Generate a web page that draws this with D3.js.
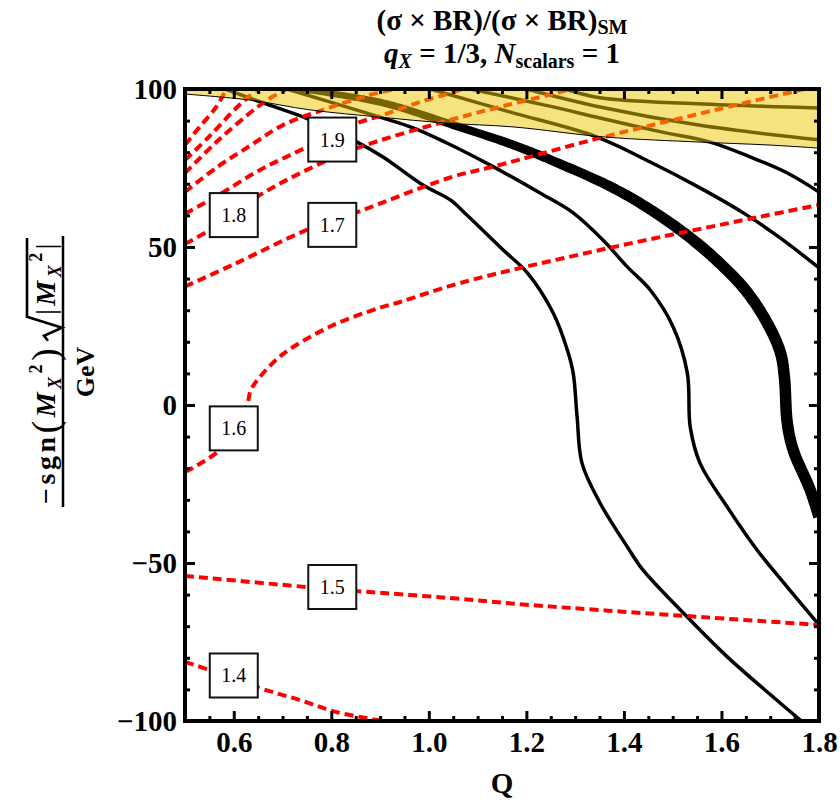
<!DOCTYPE html>
<html>
<head>
<meta charset="utf-8">
<script src="https://cdn.jsdelivr.net/npm/d3@7"></script>
<style>
  body { margin: 0; background: #fff; }
  text { font-family: "Liberation Serif", "Times New Roman", serif; }
</style>
</head>
<body>
<div id="chart"></div>
<script>
// axis ranges and tick labels
var qDomain = [0.5, 1.8],
  mDomain = [-100, 100],
  qMajor = [0.6, 0.8, 1.0, 1.2, 1.4, 1.6, 1.8],
  mMajor = [-100, -50, 0, 50, 100];

// red dashed contours of (sigma x BR)/(sigma x BR)_SM, points are [Q, mass]
var ratio14 = [[0.5,-81.3],[0.551,-83.9],[0.654,-89.6],[0.736,-93.4],[0.811,-97.2],[0.894,-99.7],[0.93,-101]];
var ratio15 = [[0.5,-54.1],[0.75,-57.6],[0.853,-58.9],[1.044,-61.1],[1.2,-63.2],[1.351,-64.9],[1.53,-66.8],[1.8,-69.6]];
var ratio16 = [[0.5,-21.2],[0.566,-14.9],[0.6,-8],[0.627,0],[0.635,4.7],[0.65,8.2],[0.7,16],[0.8,25],[0.9,30.8],[0.941,32.6],[1.064,38.6],[1.37,49.7],[1.677,59.5],[1.8,63.3]];
var ratio17 = [[0.5,37.5],[0.6,44.5],[0.75,55.4],[0.853,61],[1.044,72],[1.134,75.5],[1.343,84.2],[1.55,92],[1.77,100]];
var ratio18 = [[0.5,51],[0.551,55.4],[0.654,66.5],[0.75,74.4],[0.853,81.3],[1.044,90.2],[1.15,94.5],[1.253,98.4],[1.29,100]];
var ratio19 = [[0.5,60.5],[0.566,66.2],[0.654,74.4],[0.75,81.6],[0.853,89.2],[0.906,91.8],[0.976,95.6],[1.044,98.7],[1.07,100]];
var ratio20 = [[0.5,67.4],[0.566,75.3],[0.633,82],[0.7,88.5],[0.783,93.4],[0.879,98.1],[0.93,100]];
var ratio21 = [[0.5,73.4],[0.57,84],[0.646,94],[0.68,97.6],[0.71,100]];
var ratio22 = [[0.5,77.5],[0.55,85],[0.605,94],[0.63,97.5],[0.65,100]];
var ratio23 = [[0.5,82.3],[0.53,88],[0.564,94.3],[0.585,100]];

// labelled levels: [Q, mass, text]
var ratioLabels = [[0.60,-85.6,'1.4'],[0.802,-57.6,'1.5'],[0.60,-7.4,'1.6'],[0.802,57.0,'1.7'],[0.60,60.1,'1.8'],[0.802,84.0,'1.9']];

// black solid contours
var blackA = [[0.582,100],[0.66,95.6],[0.748,90.8],[0.853,83.2],[0.906,78.5],[0.988,69.6],[1.044,64.9],[1.078,60.1],[1.152,49.1],[1.202,41.8],[1.255,29.1],[1.284,17.4],[1.296,10.1],[1.304,-3.8],[1.314,-18.4],[1.351,-31],[1.407,-44.9],[1.439,-52.2],[1.53,-67.1],[1.612,-79.7],[1.706,-92.4],[1.764,-100],[1.78,-102]];
var blackB = [[0.709,100],[0.9,91.1],[0.968,87.7],[1.037,82.9],[1.126,75.9],[1.228,67.1],[1.296,60.8],[1.357,52.2],[1.407,43.7],[1.454,36.4],[1.501,24.7],[1.53,10.1],[1.536,-7],[1.556,-18.4],[1.612,-32.3],[1.673,-45.9],[1.735,-57.6],[1.8,-69.6]];
var blackThick = [[0.736,100],[0.906,95.6],[1.05,88.6],[1.173,82.3],[1.275,75.9],[1.366,69.6],[1.433,63.9],[1.515,55.4],[1.583,46.8],[1.649,36.4],[1.694,25.9],[1.721,16.5],[1.729,8.9],[1.735,-5.7],[1.747,-14.2],[1.782,-26.9],[1.8,-35.4]];
var blackE = [[1.003,100],[1.167,92.7],[1.345,84.8],[1.454,76.9],[1.556,68.7],[1.649,60.4],[1.721,52.8],[1.8,43.4]];
var blackD = [[1.085,100],[1.25,94.5],[1.351,90.8],[1.474,86.5],[1.577,83.2],[1.659,78.5],[1.735,73.4],[1.8,67.4]];
var blackF = [[1.2,100],[1.351,94.3],[1.556,88.5],[1.8,83.9]];
var blackG = [[1.28,100],[1.351,97.2],[1.55,95.3],[1.8,94]];

// lower edge of the yellow excluded band
var bandEdge = [[0.5,98.4],[0.633,96.5],[0.756,93.4],[0.9,91.1],[1.037,89.2],[1.173,88.0],[1.362,84.8],[1.556,83.2],[1.694,82.3],[1.8,81.3]];

var width = 840,
  height = 802,
  pL = 185, pR = 819, pT = 89, pB = 721;

var x = d3.scaleLinear().domain(qDomain).range([pL, pR]);
var y = d3.scaleLinear().domain(mDomain).range([pB, pT]);

var svg = d3.select('#chart')
  .append('svg')
  .attr('width', width)
  .attr('height', height);

svg.append('clipPath')
  .attr('id', 'plotArea')
  .append('rect')
  .attr('x', pL)
  .attr('y', pT)
  .attr('width', pR - pL)
  .attr('height', pB - pT);

var line = d3.line()
  .x(function(d){ return x(d[0]); })
  .y(function(d){ return y(d[1]); })
  .curve(d3.curveCatmullRom.alpha(0.5));

var plot = svg.append('g').attr('clip-path', 'url(#plotArea)');

// black contours
[blackA, blackB, blackE, blackD, blackF, blackG].forEach(function(c){
  plot.append('path')
    .attr('d', line(c))
    .attr('fill', 'none')
    .attr('stroke', '#000')
    .attr('stroke-width', 3.5);
});

// the thick contour widens as it goes down, so build it as a filled strip
var guide = plot.append('path')
  .attr('d', line(blackThick))
  .attr('fill', 'none')
  .attr('stroke', 'none');
var gNode = guide.node(),
  gLen = gNode.getTotalLength(),
  sideA = [], sideB = [];
for (var i = 0; i <= 300; i++) {
  var s = gLen * i / 300,
    p = gNode.getPointAtLength(s),
    p1 = gNode.getPointAtLength(Math.max(0, s - 2)),
    p2 = gNode.getPointAtLength(Math.min(gLen, s + 2)),
    dx = p2.x - p1.x, dy = p2.y - p1.y,
    dl = Math.sqrt(dx * dx + dy * dy) || 1,
    hw = (6 + 5.5 * Math.min(1, (i / 300) * 1.7)) / 2;
  sideA.push([p.x - dy / dl * hw, p.y + dx / dl * hw]);
  sideB.push([p.x + dy / dl * hw, p.y - dx / dl * hw]);
}
plot.append('path')
  .attr('d', 'M' + sideA.join('L') + 'L' + sideB.reverse().join('L') + 'Z')
  .attr('fill', '#000');

// red dashed contours
[ratio14, ratio15, ratio16, ratio17, ratio18, ratio19, ratio20, ratio21, ratio22, ratio23].forEach(function(c){
  plot.append('path')
    .attr('d', line(c))
    .attr('fill', 'none')
    .attr('stroke', '#ff0000')
    .attr('stroke-width', 4)
    .attr('stroke-dasharray', '9,5');
});

// yellow band, see-through so the lines below turn olive / orange
var band = d3.area()
  .x(function(d){ return x(d[0]); })
  .y0(y(100))
  .y1(function(d){ return y(d[1]); })
  .curve(d3.curveCatmullRom.alpha(0.5));

plot.append('path')
  .attr('d', band(bandEdge))
  .attr('fill', 'rgb(238,200,0)')
  .attr('fill-opacity', 0.5);
plot.append('path')
  .attr('d', line(bandEdge))
  .attr('fill', 'none')
  .attr('stroke', '#000')
  .attr('stroke-width', 1);

// contour labels
var lab = svg.selectAll('.lab')
  .data(ratioLabels)
  .enter().append('g')
  .attr('class', 'lab')
  .attr('transform', function(d){ return 'translate(' + x(d[0]) + ',' + y(d[1]) + ')'; });
lab.append('rect')
  .attr('x', -24).attr('y', -22)
  .attr('width', 48).attr('height', 44)
  .attr('fill', '#fff')
  .attr('stroke', '#111')
  .attr('stroke-width', 2);
lab.append('text')
  .attr('text-anchor', 'middle')
  .attr('dy', '0.35em')
  .attr('font-size', 20)
  .text(function(d){ return d[2]; });

// axes with inward ticks on all four sides
var qMinor = d3.range(0.55, 1.79, 0.05).filter(function(v){ return Math.abs(v * 5 - Math.round(v * 5)) > 0.01; });
var mMinor = d3.range(-90, 91, 10).filter(function(v){ return v % 50 !== 0; });

function styleAxis(g){
  g.select('.domain').remove();
  g.selectAll('line').attr('stroke', '#000').attr('stroke-width', 3);
  g.attr('font-family', '"Liberation Serif", "Times New Roman", serif')
    .attr('font-size', 29)
    .attr('font-weight', 'bold');
  g.selectAll('text').attr('fill', '#000');
}

svg.append('g').attr('transform', 'translate(0,' + pB + ')')
  .call(d3.axisBottom(x).tickValues(qMajor).tickSizeInner(-10).tickSizeOuter(0).tickPadding(10).tickFormat(d3.format('.1f')))
  .call(styleAxis);
svg.append('g').attr('transform', 'translate(0,' + pB + ')')
  .call(d3.axisBottom(x).tickValues(qMinor).tickSizeInner(-5).tickSizeOuter(0).tickFormat(''))
  .call(styleAxis);
svg.append('g').attr('transform', 'translate(0,' + pT + ')')
  .call(d3.axisTop(x).tickValues(qMajor).tickSizeInner(-10).tickSizeOuter(0).tickFormat(''))
  .call(styleAxis);
svg.append('g').attr('transform', 'translate(0,' + pT + ')')
  .call(d3.axisTop(x).tickValues(qMinor).tickSizeInner(-5).tickSizeOuter(0).tickFormat(''))
  .call(styleAxis);
svg.append('g').attr('transform', 'translate(' + pL + ',0)')
  .call(d3.axisLeft(y).tickValues(mMajor).tickSizeInner(-10).tickSizeOuter(0).tickPadding(8).tickFormat(d3.format('d')))
  .call(styleAxis);
svg.append('g').attr('transform', 'translate(' + pL + ',0)')
  .call(d3.axisLeft(y).tickValues(mMinor).tickSizeInner(-5).tickSizeOuter(0).tickFormat(''))
  .call(styleAxis);
svg.append('g').attr('transform', 'translate(' + pR + ',0)')
  .call(d3.axisRight(y).tickValues(mMajor).tickSizeInner(-10).tickSizeOuter(0).tickFormat(''))
  .call(styleAxis);
svg.append('g').attr('transform', 'translate(' + pR + ',0)')
  .call(d3.axisRight(y).tickValues(mMinor).tickSizeInner(-5).tickSizeOuter(0).tickFormat(''))
  .call(styleAxis);

svg.append('rect')
  .attr('x', pL).attr('y', pT)
  .attr('width', pR - pL).attr('height', pB - pT)
  .attr('fill', 'none')
  .attr('stroke', '#000')
  .attr('stroke-width', 4);

// title
var t1 = svg.append('text')
  .attr('x', (pL + pR) / 2).attr('y', 30)
  .attr('text-anchor', 'middle')
  .attr('font-size', 29).attr('font-weight', 'bold');
t1.append('tspan').text('(σ × BR)/(σ × BR)');
t1.append('tspan').attr('font-size', 20).attr('dy', 4).text('SM');

var t2 = svg.append('text')
  .attr('x', (pL + pR) / 2).attr('y', 63)
  .attr('text-anchor', 'middle')
  .attr('font-size', 29).attr('font-weight', 'bold');
t2.append('tspan').attr('font-style', 'italic').text('q');
t2.append('tspan').attr('font-style', 'italic').attr('font-size', 20).attr('dy', 5).text('X');
t2.append('tspan').attr('dy', -5).text(' = 1/3, ');
t2.append('tspan').attr('font-style', 'italic').text('N');
t2.append('tspan').attr('font-size', 20).attr('dy', 5).text('scalars');
t2.append('tspan').attr('dy', -5).text(' = 1');

// x axis title
svg.append('text')
  .attr('x', (pL + pR) / 2).attr('y', 793)
  .attr('text-anchor', 'middle')
  .attr('font-size', 29).attr('font-weight', 'bold')
  .text('Q');

// y axis title, a fraction turned on its side
var yl = svg.append('g')
  .attr('transform', 'translate(63,372) rotate(-90)')
  .attr('font-size', 28).attr('font-weight', 'bold');

var n1 = yl.append('text').attr('y', -8).attr('letter-spacing', 3.5);
n1.append('tspan').text('−sgn');
n1.append('tspan').attr('font-size', 38).attr('font-weight', 'normal').attr('dy', 3).text('(');
n1.append('tspan').attr('font-style', 'italic').attr('dy', -3).text('M');
n1.append('tspan').attr('font-style', 'italic').attr('font-size', 18).attr('dy', 6).text('X');
n1.append('tspan').attr('font-size', 18).attr('dy', -19).text('2');
n1.append('tspan').attr('font-size', 38).attr('font-weight', 'normal').attr('dy', 16).text(')');

var n2 = yl.append('text').attr('y', -8).attr('letter-spacing', 3.5);
n2.append('tspan').attr('font-weight', 'normal').text('|');
n2.append('tspan').attr('font-style', 'italic').text('M');
n2.append('tspan').attr('font-style', 'italic').attr('font-size', 18).attr('dy', 6).text('X');
n2.append('tspan').attr('font-size', 18).attr('dy', -19).text('2');
n2.append('tspan').attr('font-weight', 'normal').attr('dy', 13).text('|');

var w1 = n1.node().getComputedTextLength(),
  w2 = n2.node().getComputedTextLength(),
  rootW = 30,
  wAll = w1 + rootW + w2,
  x0 = -wAll / 2,
  r0 = x0 + w1 + 4;
n1.attr('x', x0);
n2.attr('x', x0 + w1 + rootW);

// radical sign drawn as a path, with its bar over |M_X^2|
yl.append('path')
  .attr('d', 'M' + r0 + ',-15 L' + (r0 + 5) + ',-19 L' + (r0 + 13) + ',-1 L' + (r0 + 24) + ',-36 L' + (wAll / 2 + 2) + ',-36')
  .attr('fill', 'none')
  .attr('stroke', '#000')
  .attr('stroke-width', 2.6)
  .attr('stroke-linejoin', 'miter');
yl.append('line')
  .attr('x1', x0 - 3).attr('x2', wAll / 2 + 4)
  .attr('y1', 0).attr('y2', 0)
  .attr('stroke', '#000').attr('stroke-width', 2.5);
yl.append('text')
  .attr('y', 31)
  .attr('font-size', 26)
  .attr('text-anchor', 'middle')
  .text('GeV');
</script>
</body>
</html>
